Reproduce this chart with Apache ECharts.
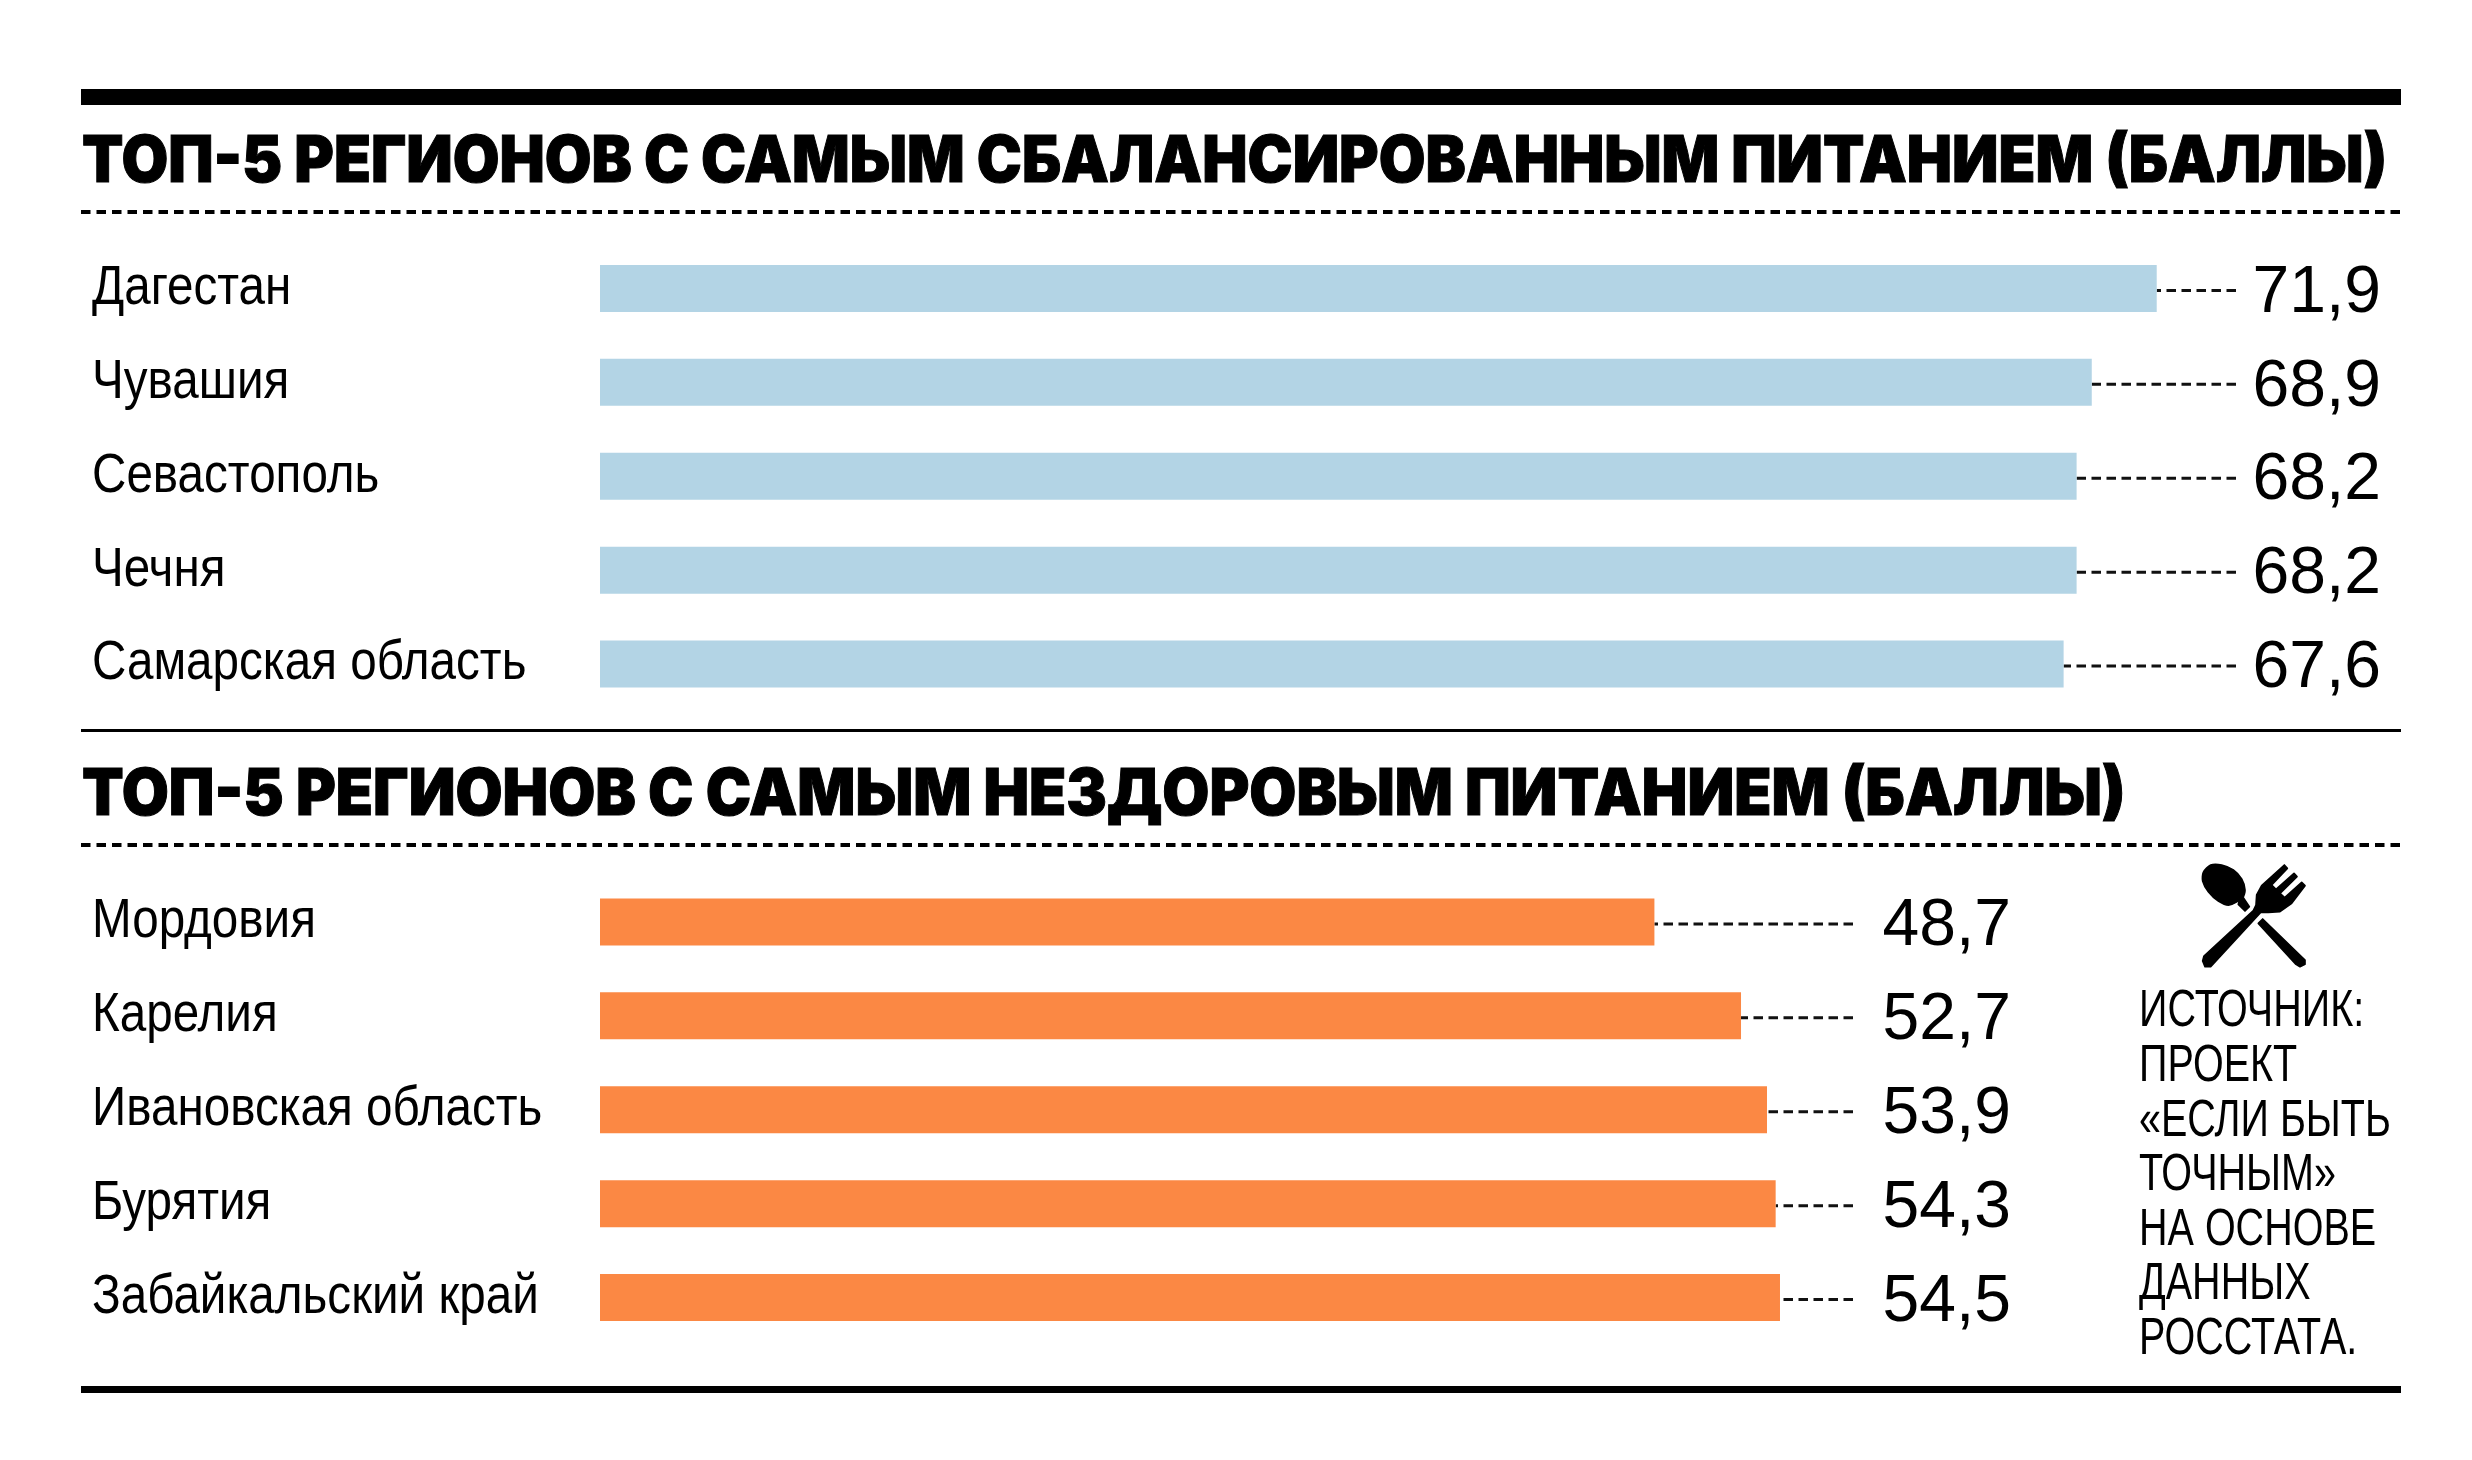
<!DOCTYPE html>
<html>
<head>
<meta charset="utf-8">
<script src="https://cdn.jsdelivr.net/npm/echarts@6/dist/echarts.min.js"></script>
<style>
html,body{margin:0;padding:0;background:#fff}
#chart{width:2472px;height:1460px}
</style>
</head>
<body>
<div id="chart"></div>
<script>
const topTitle = 'ТОП-5 РЕГИОНОВ С САМЫМ СБАЛАНСИРОВАННЫМ ПИТАНИЕМ (БАЛЛЫ)';
const bottomTitle = 'ТОП-5 РЕГИОНОВ С САМЫМ НЕЗДОРОВЫМ ПИТАНИЕМ (БАЛЛЫ)';
const topRegions = ['Дагестан', 'Чувашия', 'Севастополь', 'Чечня', 'Самарская область'];
const topValues = [71.9, 68.9, 68.2, 68.2, 67.6];
const bottomRegions = ['Мордовия', 'Карелия', 'Ивановская область', 'Бурятия', 'Забайкальский край'];
const bottomValues = [48.7, 52.7, 53.9, 54.3, 54.5];
const sourceLines = ['ИСТОЧНИК:', 'ПРОЕКТ', '«ЕСЛИ БЫТЬ', 'ТОЧНЫМ»', 'НА ОСНОВЕ', 'ДАННЫХ', 'РОССТАТА.'];

const sans = '"Liberation Sans"';
const labelScale = 0.85; // the original type is a condensed grotesque

// region name, leader line and value text for one bar
function rowItem(names, endX, textX) {
    return function (params, api) {
        const i = api.value(1);
        const p = api.coord([api.value(0), i]);
        const y = p[1] + 2;
        return {
            type: 'group',
            children: [
                {
                    type: 'text',
                    x: 92,
                    y: p[1],
                    scaleX: labelScale,
                    style: {
                        text: names[i],
                        font: '56px ' + sans,
                        fill: '#000',
                        verticalAlign: 'middle'
                    }
                },
                {
                    // drawn from the right so the dashes line up at the right end
                    type: 'line',
                    shape: {x1: endX, y1: y, x2: p[0], y2: y},
                    style: {stroke: '#111', lineWidth: 3, lineDash: [9.5, 5.5]}
                },
                {
                    type: 'text',
                    style: {
                        x: textX, y: p[1] + 5,
                        text: String(api.value(0)).replace('.', ','),
                        font: '66px ' + sans,
                        fill: '#000',
                        align: 'right',
                        verticalAlign: 'middle'
                    }
                }
            ]
        };
    };
}

function barSeries(idx, names, values, color, endX, textX) {
    return [
        {
            type: 'bar',
            xAxisIndex: idx,
            yAxisIndex: idx,
            barWidth: 47,
            silent: true,
            itemStyle: {color: color},
            data: values
        },
        {
            type: 'custom',
            xAxisIndex: idx,
            yAxisIndex: idx,
            silent: true,
            clip: false,
            renderItem: rowItem(names, endX, textX),
            data: values.map(function (v, i) { return [v, i]; })
        }
    ];
}

function yAxis(idx, names) {
    return {
        type: 'category',
        gridIndex: idx,
        inverse: true,
        data: names,
        axisLine: {show: false},
        axisTick: {show: false},
        axisLabel: {show: false}
    };
}

function xAxis(idx) {
    return {
        type: 'value',
        gridIndex: idx,
        min: 0,
        max: 86,
        show: false,
        splitLine: {show: false}
    };
}

function rule(y, h) {
    return {type: 'rect', shape: {x: 81, y: y, width: 2320, height: h}, style: {fill: '#000'}};
}

function dashed(y) {
    return {
        type: 'line',
        shape: {x1: 81, y1: y, x2: 2401, y2: y},
        style: {stroke: '#000', lineWidth: 4, lineDash: [9.5, 6]}
    };
}

function heading(text, y, sx) {
    return {
        type: 'text',
        x: 82,
        y: y,
        scaleX: sx,
        style: {
            text: text,
            font: '900 64px Inter',
            fill: '#000',
            stroke: '#000',
            lineWidth: 1,
            verticalAlign: 'middle'
        }
    };
}

const sourceText = sourceLines.map(function (t, i) {
    return {
        type: 'text',
        x: 2139,
        y: 1012 + i * 54.6,
        scaleX: 0.76,
        style: {text: t, font: '52px ' + sans, fill: '#000', verticalAlign: 'middle'}
    };
});

// spoon + fork, crossed (graphic has no plain path type, so polygons)
const iconStyle = {fill: '#000', stroke: '#000', lineWidth: 5, lineJoin: 'round'};
const icon = {
    type: 'group',
    x: 2190,
    y: 855,
    scaleX: 1 / 3,
    scaleY: 1 / 3,
    children: [
        {
            type: 'polygon',
            shape: {
                smooth: 0.25,
                points: [[40, 52], [62, 30], [95, 30], [130, 45], [155, 72], [165, 105], [158, 128]]
                    .concat([[118, 150], [85, 138], [55, 110], [38, 78]])
            },
            style: iconStyle
        },
        {
            type: 'polygon',
            shape: {points: [[150, 125], [160, 128], [178, 155], [165, 168], [145, 148]]},
            style: iconStyle
        },
        {
            type: 'polygon',
            shape: {points: [[205, 205], [218, 192], [345, 315], [345, 328], [330, 335], [318, 328]]},
            style: iconStyle
        },
        {
            type: 'polygon',
            shape: {
                points: [[42, 303], [190, 167], [198, 150], [200, 120], [215, 92], [283, 30], [292, 40]]
                    .concat([[245, 90], [258, 103], [312, 55], [321, 65], [270, 115], [284, 128]])
                    .concat([[335, 82], [345, 92], [305, 145], [270, 170], [235, 172], [212, 172]])
                    .concat([[62, 335], [45, 335], [38, 318]])
            },
            style: iconStyle
        }
    ]
};

const option = {
    animation: false,
    backgroundColor: '#fff',
    grid: [
        {left: 600, top: 241.5, width: 1862, height: 469.5},
        {left: 600, top: 875, width: 1862, height: 469.5}
    ],
    xAxis: [xAxis(0), xAxis(1)],
    yAxis: [yAxis(0, topRegions), yAxis(1, bottomRegions)],
    series: barSeries(0, topRegions, topValues, '#b3d4e5', 2236, 2381)
        .concat(barSeries(1, bottomRegions, bottomValues, '#fb8844', 1853, 2011)),
    graphic: [
        rule(89, 16),
        heading(topTitle, 163, 0.943),
        dashed(212),
        rule(729, 3),
        heading(bottomTitle, 796, 0.95),
        dashed(845),
        rule(1386, 7),
        icon
    ].concat(sourceText)
};

const myChart = echarts.init(document.getElementById('chart'), null, {renderer: 'canvas'});
myChart.setOption(option);
</script>
</body>
</html>
